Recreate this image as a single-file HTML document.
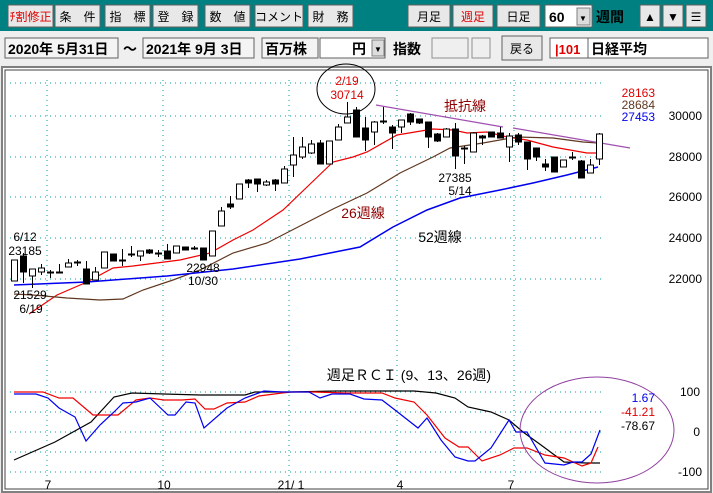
<!DOCTYPE html>
<html><head><meta charset="utf-8"><style>
body{margin:0;width:713px;height:493px;overflow:hidden;background:#ececec;font-family:"Liberation Sans","Noto Sans CJK JP",sans-serif}
svg{position:absolute;left:0;top:0}
</style></head><body>
<svg id="s" width="713" height="493" xmlns="http://www.w3.org/2000/svg" font-family="'Liberation Sans','Noto Sans CJK JP',sans-serif">
<rect x="0" y="0" width="713" height="31" fill="#008080"/>
<rect x="0" y="31" width="713" height="34" fill="#efefef"/>
<g id="btns"></g>
<rect x="2" y="67" width="709" height="425" fill="#fff" stroke="#808080" stroke-width="2"/>
<rect x="5" y="70" width="703" height="419" fill="none" stroke="#404040" stroke-width="1"/>
<g id="grid" stroke="#00a0a0" stroke-width="1" stroke-dasharray="1,4"></g>
<g id="ma" fill="none" stroke-width="1.2"></g>
<g id="cd"></g>
<g id="tx" font-size="12"></g>
</svg>
<script>
const NS="http://www.w3.org/2000/svg";
function el(p,t,a,txt){const e=document.createElementNS(NS,t);for(const k in a)e.setAttribute(k,a[k]);if(txt!=null)e.textContent=txt;document.getElementById(p).appendChild(e);return e;}
[[8,53,"ﾁ割修正","#e00000"],[55,100,"条　件","#000"],[105,150,"指　標","#000"],[153,198,"登　録","#000"],[205,250,"数　値","#000"],[255,303,"コメント","#000"],[308,353,"財　務","#000"],[408,450,"月足","#000"],[453,493,"週足","#e00000"],[497,540,"日足","#000"],[640,660,"▲","#000"],[663,683,"▼","#000"],[686,706,"☰","#000"]].forEach(b=>{
 el("btns","rect",{x:b[0],y:5,width:b[1]-b[0],height:22,fill:"#e8e8e8",stroke:"#606060"});
 el("btns","text",{x:(b[0]+b[1])/2,y:21,"font-size":12,"text-anchor":"middle",fill:b[3]},b[2]);});
el("btns","rect",{x:545,y:5,width:47,height:22,fill:"#fff",stroke:"#606060"});
el("btns","text",{x:549,y:22,"font-size":14,"font-weight":"bold"},"60");
el("btns","rect",{x:577,y:8,width:13,height:17,fill:"#ddd",stroke:"#808080"});
el("btns","text",{x:579,y:21,"font-size":8},"▼");
el("btns","text",{x:596,y:22,"font-size":14,"font-weight":"bold"},"週間");
[[5,118,"2020年 5月31日"],[143,254,"2021年 9月 3日"],[262,318,"百万株"]].forEach(b=>{
 el("btns","rect",{x:b[0],y:38,width:b[1]-b[0],height:20,fill:"#f4f4f4",stroke:"#606060"});
 el("btns","text",{x:b[0]+3,y:54,"font-size":14,"font-weight":"bold"},b[2]);});
el("btns","text",{x:123,y:54,"font-size":14,"font-weight":"bold"},"～");
el("btns","rect",{x:320,y:38,width:65,height:20,fill:"#fff",stroke:"#606060"});
el("btns","text",{x:352,y:54,"font-size":14,"font-weight":"bold"},"円");
el("btns","rect",{x:372,y:40,width:12,height:16,fill:"#ddd",stroke:"#808080"});
el("btns","text",{x:374,y:52,"font-size":8},"▼");
el("btns","text",{x:393,y:54,"font-size":14,"font-weight":"bold"},"指数");
el("btns","rect",{x:432,y:38,width:36,height:20,fill:"#efefef",stroke:"#909090"});
el("btns","rect",{x:472,y:38,width:18,height:20,fill:"#efefef",stroke:"#909090"});
el("btns","rect",{x:502,y:36,width:40,height:24,fill:"#e8e8e8",stroke:"#606060"});
el("btns","text",{x:510,y:53,"font-size":12},"戻る");
el("btns","rect",{x:550,y:38,width:158,height:20,fill:"#fff",stroke:"#606060"});
el("btns","text",{x:555,y:54,"font-size":13,"font-weight":"bold",fill:"#e00000"},"|101");
el("btns","line",{x1:588,y1:38,x2:588,y2:58,stroke:"#606060"});
el("btns","text",{x:591,y:54,"font-size":14,"font-weight":"bold"},"日経平均");
[47,163,289,397,514].forEach(x=>el("grid","line",{x1:x,y1:80,x2:x,y2:480}));
[83,116,157,197,238,279].forEach(y=>el("grid","line",{x1:10,y1:y,x2:605,y2:y}));
[392,412,432,452,472].forEach(y=>el("grid","line",{x1:10,y1:y,x2:605,y2:y}));
const pl=(pts,c,w)=>el("ma","polyline",{points:pts,stroke:c,"stroke-width":w||1.2});
pl("29,314 57,295 87,282 113,268 133,266 180,260 210,253 233,240 253,230 283,210 307,187 333,162 353,157 367,152 397,135 433,129 453,130 467,133 487,132 507,137 527,140 553,147 587,153 598,153","#f00000");
pl("14,294 33,295 67,298 100,300 123,299 143,290 173,280 200,270 233,253 267,243 300,226 333,209 367,193 400,173 433,157 450,148 483,143 517,137 553,138 583,142 598,143","#603820");
pl("14,285 87,282 167,276 233,269 300,259 360,247 393,227 427,210 460,198 500,190 533,183 567,175 598,167","#0000f0",1.5);
pl("376,105 503,127","#a050b0");pl("513,128 630,148","#a050b0");
pl("14,460 55,442 91,422 114,397 132,393 164,394 200,395 245,395 255,392 291,392 336,391 414,391 436,393 455,398 468,407 491,412 509,420 523,432 541,445 564,462 586,463 600,463","#000");
pl("14,392 43,392 59,398 73,398 93,415 118,415 136,400 150,398 164,400 182,400 195,399 205,409 214,409 227,403 245,402 259,396 282,393 291,392 314,392 345,393 382,393 395,398 414,402 427,415 445,438 459,447 468,447 482,461 500,455 514,448 527,448 545,455 564,458 582,466 591,463 598,447","#f00000");
pl("14,394 36,394 48,398 59,408 75,417 86,441 100,425 114,412 123,403 136,402 150,398 168,415 175,415 186,402 195,403 204,428 227,408 245,398 264,391 282,392 309,392 320,398 332,394 350,394 364,399 382,400 395,410 418,428 427,418 441,440 455,457 468,461 475,461 491,448 509,420 516,432 527,432 545,463 564,465 573,462 582,462 591,454 600,430","#0000f0");
el("ma","ellipse",{cx:346,cy:89,rx:29,ry:25,stroke:"#000","stroke-width":1});
el("ma","ellipse",{cx:597,cy:430,rx:77,ry:53,stroke:"#9040a0","stroke-width":1});
const C=[[14,260,281,260,281,0],[23,253,283,256,272,1],[32,269,288,269,276,0],[41,264,275,268,272,0],[50,270,278,272,273,1],[59,264,272,272,273,1],[68,259,267,263,267,0],[77,260,266,262,263,1],[86,261,284,269,284,1],[95,267,280,272,280,0],[104,252,268,252,268,0],[113,254,261,254,261,1],[122,249,266,260,261,1],[131,246,257,254,255,1],[140,251,261,251,256,0],[149,249,254,250,253,1],[158,250,257,253,254,1],[167,244,259,251,259,1],[176,246,253,246,253,0],[185,247,250,247,250,1],[194,246,250,248,249,1],[203,248,260,248,260,1],[212,231,256,231,256,0],[221,207,226,211,226,0],[230,196,209,204,207,1],[239,184,199,184,199,0],[248,179,188,180,183,1],[257,179,192,179,184,1],[266,180,186,182,185,0],[275,179,191,180,184,1],[284,166,183,169,183,0],[293,137,177,155,165,0],[302,137,159,147,157,0],[311,140,154,144,153,0],[320,140,164,143,164,1],[329,141,164,141,164,0],[338,124,140,127,140,0],[347,102,123,117,123,0],[356,107,137,110,137,1],[365,117,151,128,140,1],[374,121,145,122,132,0],[383,107,124,121,122,1],[392,125,149,127,133,1],[401,120,133,120,127,0],[410,113,125,114,122,1],[419,119,124,119,123,1],[428,122,148,122,137,1],[437,133,142,134,141,1],[446,128,137,129,137,0],[455,123,169,129,156,1],[464,146,164,148,149,1],[473,132,152,133,152,0],[482,135,145,136,138,1],[491,132,137,132,137,1],[500,127,138,133,138,1],[509,133,162,136,147,0],[518,133,145,135,142,1],[527,142,170,142,159,1],[536,148,161,148,157,1],[545,159,171,164,167,1],[554,157,172,157,172,1],[563,160,167,160,167,0],[572,152,160,157,158,1],[581,160,178,161,178,1],[590,159,173,165,173,0],[599,133,165,134,159,0]];
C.forEach(c=>{el("cd","line",{x1:c[0]+.5,y1:c[1],x2:c[0]+.5,y2:c[2],stroke:"#000"});
 el("cd","rect",{x:c[0]-2.5,y:c[3],width:6,height:Math.max(1,c[4]-c[3]),fill:c[5]?"#000":"#fff",stroke:"#000"});});
const T=(x,y,s,f,a,sz)=>el("tx","text",{x:x,y:y,fill:f||"#000","text-anchor":a||"middle","font-size":sz||12},s);
T(347,85,"2/19","#e00000");T(347,99,"30714","#e00000");
T(25,241,"6/12");T(25,255,"23185");T(30,299,"21529");T(31,313,"6/19");
T(203,272,"22948");T(203,285,"10/30");T(455,182,"27385");T(460,195,"5/14");
T(465,111,"抵抗線","#900000","middle",14);T(363,218,"26週線","#900000","middle",14);T(440,242,"52週線","#000","middle",14);
T(655,97,"28163","#e00000","end");T(655,109,"28684","#603820","end");T(655,121,"27453","#0000f0","end");
[[30000,120],[28000,161],[26000,201],[24000,242],[22000,283]].forEach(v=>T(702,v[1],v[0],"#000","end"));
T(409,380,"週足ＲＣＩ (9、13、26週)","#000","middle",14);
T(655,402,"1.67","#0000f0","end");T(655,416,"-41.21","#e00000","end");T(655,430,"-78.67","#000","end");
T(700,396,"100","#000","end");T(700,436,"0","#000","end");T(702,476,"-100","#000","end");
[[48,"7"],[164,"10"],[291,"21/ 1"],[400,"4"],[511,"7"]].forEach(v=>T(v[0],489,v[1]));
</script>
</body></html>
